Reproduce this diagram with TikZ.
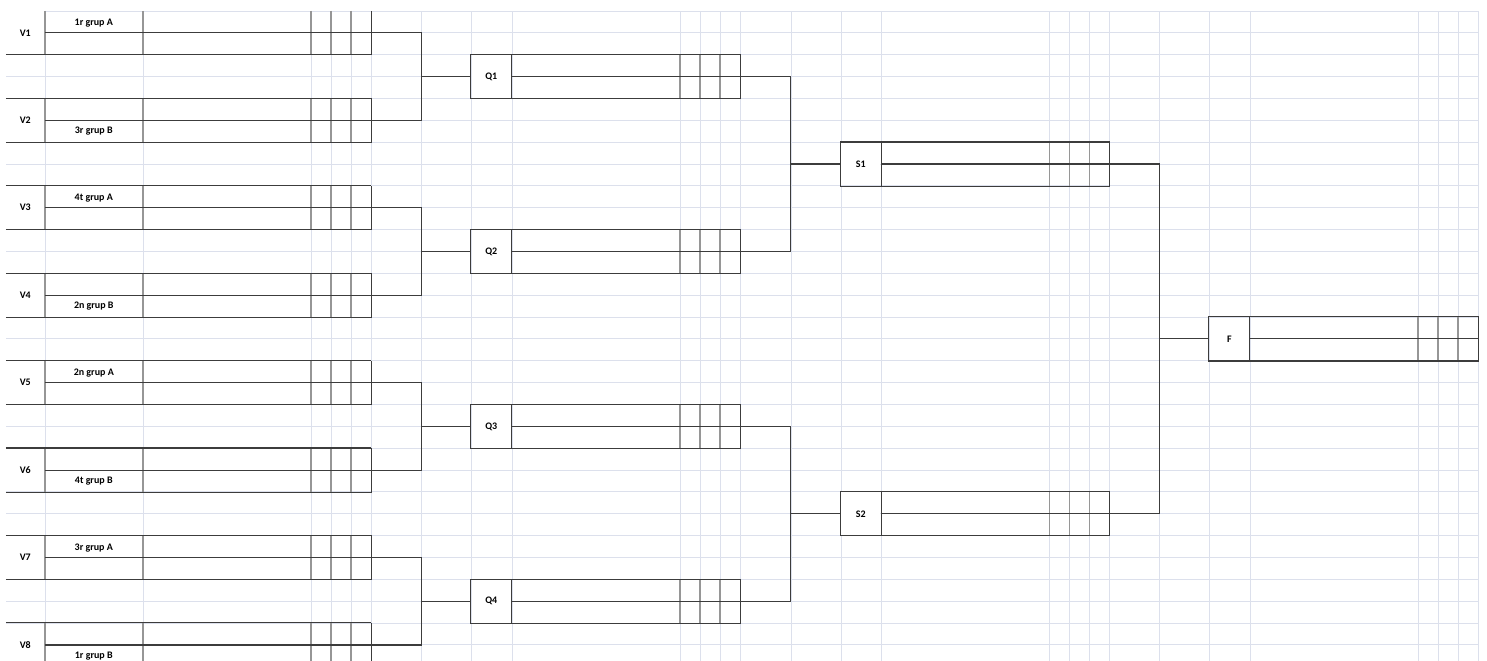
\documentclass[tikz,border=0pt]{standalone}
\usepackage{fontspec}
\setmainfont{Carlito}
\usetikzlibrary{positioning,calc}
\definecolor{gridblue}{RGB}{220,224,236}
\definecolor{cellline}{RGB}{60,60,60}
\definecolor{scoreline}{RGB}{150,150,150}

\begin{document}
\begin{tikzpicture}[
    x=1pt, y=-21.86pt,
    every node/.style={font=\fontsize{10}{12}\selectfont\bfseries, inner sep=0pt},
    gridline/.style={gridblue, line width=1pt},
    edge/.style={cellline, line width=1.1pt},
    divider/.style={scoreline, line width=1.4pt},
    link/.style={cellline, line width=1.1pt},
    merged/.style={fill=white, draw=none},
    firstround/.style={rectangle, minimum width=365pt, minimum height=43.72pt},
    laterround/.style={rectangle, minimum width=269pt, minimum height=43.72pt}
]

\useasboundingbox (0,-0.5032) rectangle (1487,29.689);
\clip (0,-0.5032) rectangle (1487,29.689);

% Sheet grid
\foreach \k in {0,...,30}
    \draw[gridline] (6,\k) -- (1478,\k);
\foreach \x in {45,143,311,331,351,371,421,471,512,680,700,720,740,791,841,881,1049,1069,1089,1109,1159,1209,1250,1418,1438,1458,1478}
    \draw[gridline] (\x,0) -- (\x,30);

% First round
\node[firstround] (v1) at (188.5,1) {};
\node[firstround] (v2) at (188.5,5) {};
\node[firstround] (v3) at (188.5,9) {};
\node[firstround] (v4) at (188.5,13) {};
\node[firstround] (v5) at (188.5,17) {};
\node[firstround] (v6) at (188.5,21) {};
\node[firstround] (v7) at (188.5,25) {};
\node[firstround] (v8) at (188.5,29) {};

% Quarter finals
\node[laterround] (q1) at (605.5,3) {};
\node[laterround] (q2) at (605.5,11) {};
\node[laterround] (q3) at (605.5,19) {};
\node[laterround] (q4) at (605.5,27) {};

% Semi finals
\node[laterround] (s1) at (975,7) {};
\node[laterround] (s2) at (975,23) {};

% Final
\node[laterround] (f) at (1343.5,15) {};

% Cells of the first round
\foreach \i in {1,...,8} {
    \fill[merged] ($(v\i.north west)+(0,0.03)$) rectangle ($(v\i.south west)+(38,-0.03)$);
    \foreach \dx in {39,137,305,325,345}
        \draw[divider] ($(v\i.north west)+(\dx,0)$) -- ($(v\i.south west)+(\dx,0)$);
    \draw[edge] (v\i.south west) -- (v\i.south east) -- (v\i.north east);
    \draw[edge] ($(v\i.west)+(39,0)$) -- (v\i.east);
}
\foreach \i in {2,...,8}
    \draw[edge] (v\i.north west) -- (v\i.north east);

% Cells of the later rounds
\foreach \m in {q1,q2,q3,q4,s1,s2,f} {
    \fill[merged] ($(\m.north west)+(1,0.03)$) rectangle ($(\m.south west)+(40,-0.03)$);
    \foreach \dx in {209,229,249}
        \draw[divider] ($(\m.north west)+(\dx,0)$) -- ($(\m.south west)+(\dx,0)$);
    \draw[edge] (\m.north west) rectangle (\m.south east);
    \draw[edge] ($(\m.north west)+(41,0)$) -- ($(\m.south west)+(41,0)$);
    \draw[edge] ($(\m.west)+(41,0)$) -- (\m.east);
}

% Names
\node (v1name) at ($(v1.west)+(19.5,0)$) {V1};
\node (v2name) at ($(v2.west)+(19.5,0)$) {V2};
\node (v3name) at ($(v3.west)+(19.5,0)$) {V3};
\node (v4name) at ($(v4.west)+(19.5,0)$) {V4};
\node (v5name) at ($(v5.west)+(19.5,0)$) {V5};
\node (v6name) at ($(v6.west)+(19.5,0)$) {V6};
\node (v7name) at ($(v7.west)+(19.5,0)$) {V7};
\node (v8name) at ($(v8.west)+(19.5,0)$) {V8};
\node (q1name) at ($(q1.west)+(20.5,0)$) {Q1};
\node (q2name) at ($(q2.west)+(20.5,0)$) {Q2};
\node (q3name) at ($(q3.west)+(20.5,0)$) {Q3};
\node (q4name) at ($(q4.west)+(20.5,0)$) {Q4};
\node (s1name) at ($(s1.west)+(20.5,0)$) {S1};
\node (s2name) at ($(s2.west)+(20.5,0)$) {S2};
\node (fname) at ($(f.west)+(20.5,0)$) {F};

% Group places
\node (v1seed) at ($(v1.west)+(88,-0.43)$) {1r grup A};
\node (v2seed) at ($(v2.west)+(88,0.5)$) {3r grup B};
\node (v3seed) at ($(v3.west)+(88,-0.43)$) {4t grup A};
\node (v4seed) at ($(v4.west)+(88,0.5)$) {2n grup B};
\node (v5seed) at ($(v5.west)+(88,-0.43)$) {2n grup A};
\node (v6seed) at ($(v6.west)+(88,0.5)$) {4t grup B};
\node (v7seed) at ($(v7.west)+(88,-0.43)$) {3r grup A};
\node (v8seed) at ($(v8.west)+(88,0.5)$) {1r grup B};

% Connections
\draw[link] (v1.east) -- ++(50,0) |- (q1.west);
\draw[link] (v2.east) -- ++(50,0) |- (q1.west);
\draw[link] (v3.east) -- ++(50,0) |- (q2.west);
\draw[link] (v4.east) -- ++(50,0) |- (q2.west);
\draw[link] (v5.east) -- ++(50,0) |- (q3.west);
\draw[link] (v6.east) -- ++(50,0) |- (q3.west);
\draw[link] (v7.east) -- ++(50,0) |- (q4.west);
\draw[link] (v8.east) -- ++(50,0) |- (q4.west);
\draw[link] (q1.east) -- ++(50.5,0) |- (s1.west);
\draw[link] (q2.east) -- ++(50.5,0) |- (s1.west);
\draw[link] (q3.east) -- ++(50.5,0) |- (s2.west);
\draw[link] (q4.east) -- ++(50.5,0) |- (s2.west);
\draw[link] (s1.east) -- ++(50,0) |- (f.west);
\draw[link] (s2.east) -- ++(50,0) |- (f.west);

\end{tikzpicture}
\end{document}
